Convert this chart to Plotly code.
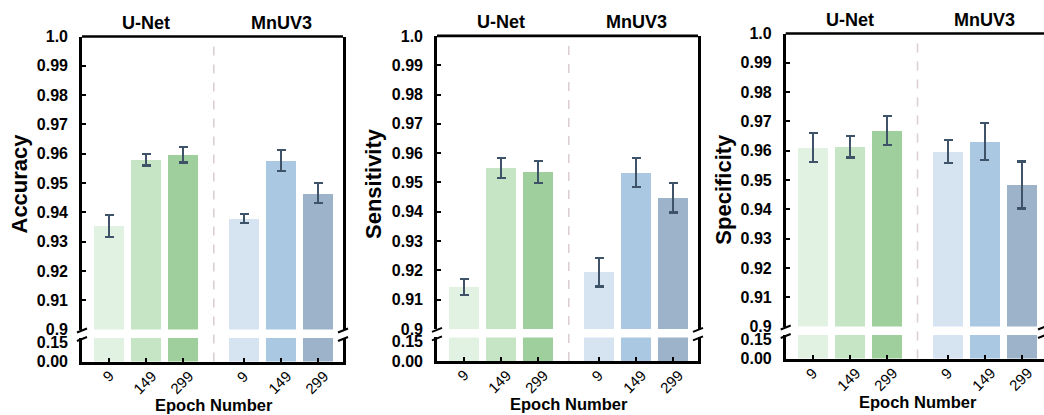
import plotly.graph_objects as go

# ---------------- data ----------------
metrics = ["Accuracy", "Sensitivity", "Specificity"]
groups = ["U-Net", "MnUV3"]
epoch_labels = ["9", "149", "299", "9", "149", "299"]
x_pos = [0, 1, 2, 3.65, 4.65, 5.65]

accuracy = [0.9354, 0.9580, 0.9597, 0.9378, 0.9576, 0.9465]
accuracy_err = [0.0037, 0.0020, 0.0027, 0.0015, 0.0036, 0.0034]
sensitivity = [0.9143, 0.9548, 0.9535, 0.9193, 0.9534, 0.9447]
sensitivity_err = [0.0028, 0.0034, 0.0037, 0.0048, 0.0050, 0.0050]
specificity = [0.9611, 0.9614, 0.9669, 0.9597, 0.9632, 0.9483]
specificity_err = [0.0050, 0.0037, 0.0050, 0.0040, 0.0063, 0.0080]

upper_ticks = [0.9, 0.91, 0.92, 0.93, 0.94, 0.95, 0.96, 0.97, 0.98, 0.99, 1.0]
upper_ticktext = ["0.9", "0.91", "0.92", "0.93", "0.94", "0.95", "0.96", "0.97", "0.98", "0.99", "1.0"]
lower_ticks = [0.0, 0.15]
lower_ticktext = ["0.00", "0.15"]

bar_colors = ["#e1f2e3", "#c5e5c4", "#9ecf9c", "#d6e4f1", "#aac8e1", "#9cb3c9"]
err_color = "#3e5268"

values = [accuracy, sensitivity, specificity]
errors = [accuracy_err, sensitivity_err, specificity_err]

# ---------------- layout geometry (pixels) ----------------
W, H = 1044, 415
px_per_unit = 36.97
x_left = -0.74
panels = [
    dict(L=82.0, R=343.0, dy=0.0, mirror=True, title_y=183.5),
    dict(L=437.0, R=698.0, dy=-0.6, mirror=True, title_y=184.0),
    dict(L=785.7, R=1044.0, dy=-3.0, mirror=False, title_y=189.0),
]
Y_TOP, Y_09, Y_LOWTOP, Y_0 = 36.5, 329.5, 338.0, 361.5
LOWER_MAX = 0.18


def fx(px):
    return px / W


def fy(py):
    return 1 - py / H


font_fam = "Arial, Liberation Sans, Helvetica, sans-serif"
fig = go.Figure()
layout = dict(
    width=W, height=H, autosize=False,
    margin=dict(l=0, r=0, t=0, b=0, pad=0, autoexpand=False),
    paper_bgcolor="white", plot_bgcolor="rgba(0,0,0,0)",
    showlegend=False, bargap=0, font=dict(family=font_fam, color="black"),
)
shapes = []
annotations = []

for i, p in enumerate(panels):
    n = i + 1
    xa = "x" if n == 1 else f"x{n}"
    yu_id = 2 * n - 1
    yl_id = 2 * n
    yu = "y" if yu_id == 1 else f"y{yu_id}"
    yl = f"y{yl_id}"
    dy = p["dy"]
    x_right = x_left + (p["R"] - p["L"]) / px_per_unit

    fig.add_trace(go.Bar(
        x=x_pos, y=values[i], xaxis=xa, yaxis=yu, width=0.81,
        marker=dict(color=bar_colors, line=dict(width=0)),
        error_y=dict(type="data", array=errors[i], color=err_color, thickness=2.2, width=4.5),
    ))
    fig.add_trace(go.Bar(
        x=x_pos, y=values[i], xaxis=xa, yaxis=yl, width=0.81,
        marker=dict(color=bar_colors, line=dict(width=0)),
    ))

    xkey = "xaxis" if n == 1 else f"xaxis{n}"
    yukey = "yaxis" if yu_id == 1 else f"yaxis{yu_id}"
    ylkey = f"yaxis{yl_id}"

    layout[xkey] = dict(
        domain=[fx(p["L"]), fx(p["R"])], range=[x_left, x_right], anchor=yl,
        tickmode="array", tickvals=x_pos, showticklabels=False,
        ticks="inside", ticklen=4, tickwidth=2.2, tickcolor="black",
        showline=True, linewidth=2.6, linecolor="black", mirror=False,
        showgrid=False, zeroline=False, fixedrange=True, automargin=False,
    )
    layout[yukey] = dict(
        domain=[fy(Y_09 + dy), fy(Y_TOP + dy)], range=[0.9, 1.0], anchor=xa,
        tickmode="array", tickvals=upper_ticks, ticktext=upper_ticktext,
        ticks="inside", ticklen=4, tickwidth=2.2, tickcolor="black",
        tickfont=dict(size=16, family=font_fam, color="black", weight="bold"),
        ticklabelstandoff=8,
        showline=True, linewidth=2.6, linecolor="black", mirror=p["mirror"],
        showgrid=False, zeroline=False, fixedrange=True, automargin=False,
    )
    layout[ylkey] = dict(
        domain=[fy(Y_0 + dy), fy(Y_LOWTOP + dy)], range=[0, LOWER_MAX], anchor=xa,
        tickmode="array", tickvals=lower_ticks, ticktext=lower_ticktext,
        ticks="", tickfont=dict(size=16, family=font_fam, color="black", weight="bold"),
        ticklabelstandoff=8,
        showline=True, linewidth=2.6, linecolor="black", mirror=p["mirror"],
        showgrid=False, zeroline=False, fixedrange=True, automargin=False,
    )

    # top spine
    shapes.append(dict(type="line", xref=f"{xa} domain", yref=f"{yu} domain",
                       x0=0, x1=1, y0=1, y1=1, line=dict(color="black", width=2.6)))
    # dashed separator between groups
    sep_x = (x_pos[2] + x_pos[3]) / 2
    shapes.append(dict(type="line", xref=xa, yref="paper", x0=sep_x, x1=sep_x,
                       y0=fy(Y_0 + dy), y1=fy(Y_TOP + dy),
                       line=dict(color="#dccfd4", width=1.6, dash="dash"), layer="below"))
    # axis break marks
    for sx in ([p["L"], p["R"]] if p["mirror"] else [p["L"], p["R"] - 1]):
        for sy in (Y_09 + 1 + dy, Y_LOWTOP + 1 + dy):
            shapes.append(dict(type="line", xref="paper", yref="paper",
                               x0=fx(sx - 5), y0=fy(sy + 2), x1=fx(sx + 5), y1=fy(sy - 2),
                               line=dict(color="black", width=2)))

    # rotated x tick labels, centred under each tick
    for xv, lab in zip(x_pos, epoch_labels):
        annotations.append(dict(text=lab, xref=xa, yref="paper", x=xv - 0.05,
                                y=fy(366 + dy), showarrow=False, textangle=-45,
                                font=dict(size=15, family=font_fam, color="black"),
                                xanchor="center", yanchor="top",
                                borderpad=0))

    # group titles
    for g, gx in zip(groups, [x_pos[1], x_pos[4]]):
        annotations.append(dict(text=f"<b>{g}</b>", xref=xa, yref="paper", x=gx,
                                y=fy(22.5 + dy), showarrow=False,
                                font=dict(size=18, family=font_fam, color="black"),
                                xanchor="center", yanchor="middle"))
    # x title
    annotations.append(dict(text="<b>Epoch Number</b>", xref=xa, yref="paper", x=sep_x,
                            y=fy(405 + dy), showarrow=False,
                            font=dict(size=16.5, family=font_fam, color="black"),
                            xanchor="center", yanchor="middle", borderpad=0))
    # y title
    annotations.append(dict(text=f"<b>{metrics[i]}</b>", xref="paper", yref="paper",
                            x=fx(p["L"] - 63), y=fy(p["title_y"]), textangle=-90, showarrow=False,
                            font=dict(size=22, family=font_fam, color="black"),
                            xanchor="center", yanchor="middle"))

layout["shapes"] = shapes
layout["annotations"] = annotations
fig.update_layout(**layout)
fig.write_html(
    "out.html",
    config={"responsive": False, "displayModeBar": False},
    post_script="document.body.style.margin='0px';document.body.style.overflow='hidden';",
)
